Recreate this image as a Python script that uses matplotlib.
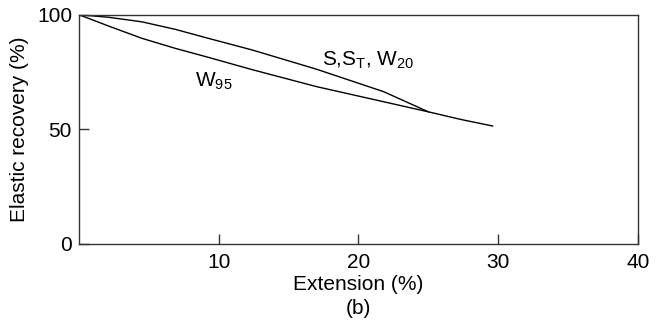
import numpy as np
import matplotlib.pyplot as plt

plt.rcParams['font.family'] = ['Liberation Sans', 'DejaVu Sans']
plt.rcParams['mathtext.fontset'] = 'custom'
plt.rcParams['mathtext.rm'] = 'Liberation Sans'
plt.rcParams['mathtext.it'] = 'Liberation Sans'

# S, ST, W20 curve
upper_x = [0, 2.1, 4.5, 6.9, 9.25, 12.4, 17.0, 21.8, 25.0, 27.3, 29.6]
upper_y = [100, 98.9, 96.9, 93.6, 89.7, 84.6, 76.2, 66.4, 57.6, 54.3, 51.4]

# W95 curve
lower_x = [0, 2.1, 4.5, 6.9, 9.25, 12.4, 17.0, 21.8, 25.0]
lower_y = [100, 95.1, 89.7, 85.3, 81.4, 76.0, 68.6, 62.0, 57.6]

xticks = [10, 20, 30, 40]
yticks = [0, 50, 100]

fs = 15

fig = plt.figure(figsize=(6.57, 3.2), dpi=100)
ax = fig.add_axes([0.1202, 0.2384, 0.8508, 0.7156])

ax.plot(upper_x, upper_y, color='black', lw=1.0)
ax.plot(lower_x, lower_y, color='black', lw=1.0)

ax.text(8.3, 70.7, r'W$_{\mathregular{95}}$', fontsize=fs, va='center')
ax.text(17.4, 80.2, r'S,S$_{\mathregular{T}}$, W$_{\mathregular{20}}$', fontsize=fs, va='center')

ax.set_xlim(0, 40)
ax.set_ylim(0, 100)
ax.set_xticks(xticks)
ax.set_yticks(yticks)
ax.tick_params(direction='in', length=7, width=1, labelsize=fs, color='#333333')
ax.tick_params(axis='x', pad=7)
ax.tick_params(axis='y', pad=5)
for s in ax.spines.values():
    s.set_linewidth(1.0)
    s.set_color('#333333')

ax.set_xlabel('Extension (%)', fontsize=fs, labelpad=2)
ax.set_ylabel('Elastic recovery (%)', fontsize=fs, labelpad=6)
fig.text(0.5457, 0.0375, '(b)', fontsize=fs, ha='center', va='center')

fig.savefig('out.png', dpi=100)
